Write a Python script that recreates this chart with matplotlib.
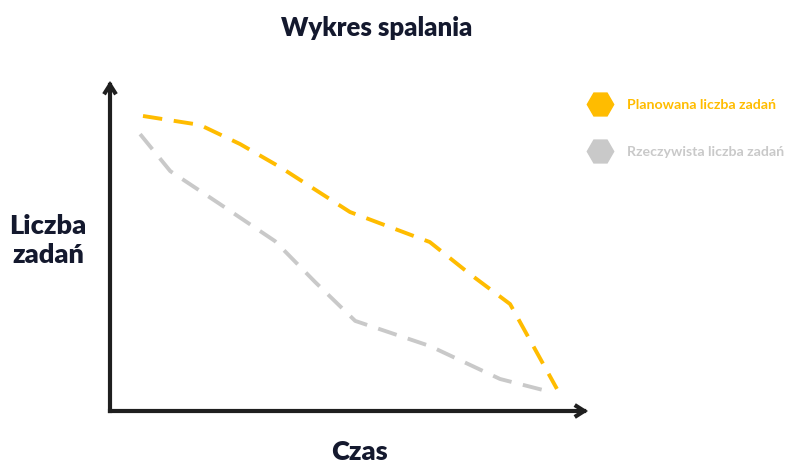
import matplotlib.pyplot as plt

# czas (arbitrary units) and liczba zadań
czas_plan = [0.69, 1.88, 2.72, 3.56, 5.02, 6.69, 7.53, 8.37, 9.35]
zadania_plan = [8.94, 8.67, 8.09, 7.39, 6.03, 5.12, 4.15, 3.24, 0.67]
czas_real = [0.63, 1.26, 2.30, 3.45, 4.29, 5.13, 6.69, 8.16, 9.21]
zadania_real = [8.39, 7.27, 6.27, 5.15, 3.91, 2.73, 1.97, 0.97, 0.58]

labels = ['Planowana liczba zadań', 'Rzeczywista liczba zadań']
colors = ['#FFBC00', '#C9C9C9']
axis_color = '#1f1f1f'
text_color = '#14192e'

plt.rcParams['font.family'] = ['Lato', 'DejaVu Sans']

W, H = 792, 464
fig = plt.figure(figsize=(W / 100, H / 100), dpi=100)
ax = fig.add_axes([110 / W, 52 / H, (588 - 110) / W, (412 - 82) / H])
ax.set_xlim(0, 10)
ax.set_ylim(0, 10)
ax.axis('off')

ax.plot(czas_plan, zadania_plan, color=colors[0], lw=2.8, dashes=(5, 3),
        solid_joinstyle='round', dash_joinstyle='round')
ax.plot(czas_real, zadania_real, color=colors[1], lw=2.8, dashes=(5, 3),
        solid_joinstyle='round', dash_joinstyle='round')

# axes arrows
arrow = dict(arrowstyle='->,head_length=0.55,head_width=0.35', color=axis_color,
             lw=3, shrinkA=0, shrinkB=0, joinstyle='miter', capstyle='projecting')
ax.annotate('', xy=(0, 1), xytext=(0, 0), xycoords='axes fraction', arrowprops=arrow)
ax.annotate('', xy=(1, 0), xytext=(0, 0), xycoords='axes fraction', arrowprops=arrow)

fig.text(377 / W, 1 - 28 / H, 'Wykres spalania', ha='center', va='center',
         fontsize=18.5, fontweight='heavy', color=text_color)
fig.text(48 / W, 1 - 241 / H, 'Liczba\nzadań', ha='center', va='center',
         fontsize=19.5, fontweight='heavy', color=text_color, linespacing=1.25)
fig.text(360 / W, 1 - 452 / H, 'Czas', ha='center', va='center',
         fontsize=19.5, fontweight='heavy', color=text_color)

# legend
for i, (lab, c) in enumerate(zip(labels, colors)):
    y = 1 - (105 + 47 * i) / H
    fig.lines.append(plt.Line2D([600 / W], [y], marker='H', markersize=19, color=c,
                                transform=fig.transFigure, linestyle='None'))
    fig.text(627 / W, y, lab, ha='left', va='center', fontsize=10.2,
             fontweight='bold', color=c)

fig.savefig('out.png', dpi=100)
